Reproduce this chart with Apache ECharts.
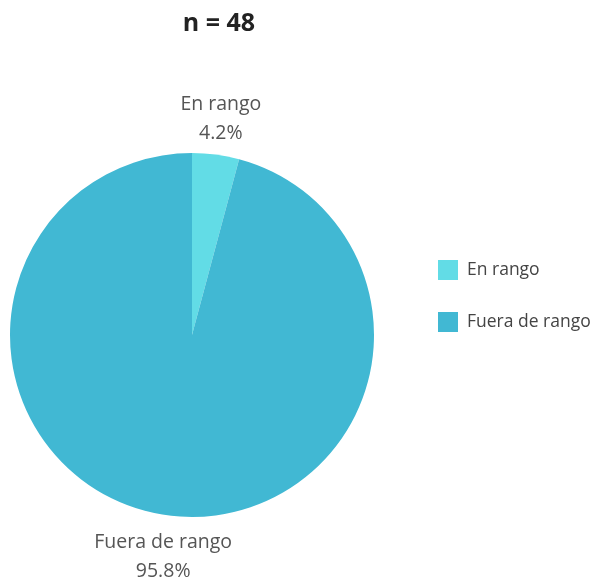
<!DOCTYPE html>
<html>
<head>
<meta charset="utf-8">
<script src="https://cdn.jsdelivr.net/npm/echarts@6/dist/echarts.min.js"></script>
<style>
  html, body { margin: 0; padding: 0; background: #fff; }
  #chart { width: 595px; height: 579px; }
</style>
</head>
<body>
<div id="chart"></div>
<script>
// Sample counts per category (n = 48)
const categories = ['En rango', 'Fuera de rango'];
const counts = [2, 46];
const colors = ['#62dce6', '#41b8d3'];

const total = counts.reduce((a, b) => a + b, 0);
const center = [192, 335];
const radius = 182;
const labelRadius = 221;

// Mid-angle of each slice (clockwise from 12 o'clock), used to place labels
const midAngles = [];
let acc = 0;
counts.forEach(v => {
  midAngles.push(((acc + v / 2) / total) * 2 * Math.PI);
  acc += v;
});

const chart = echarts.init(document.getElementById('chart'));
chart.setOption({
  animation: false,
  color: colors,
  title: {
    text: 'n = ' + total,
    left: 214,
    top: 6,
    textAlign: 'center',
    textStyle: { fontFamily: 'Open Sans', fontSize: 25, fontWeight: 'bold', color: '#222' }
  },
  legend: {
    orient: 'vertical',
    left: 433,
    top: 255,
    itemWidth: 20,
    itemHeight: 20,
    itemGap: 32,
    icon: 'rect',
    textStyle: { fontFamily: 'Open Sans', fontSize: 17.5, color: '#444', padding: [0, 0, 0, 4] },
    data: categories
  },
  series: [{
    type: 'pie',
    center: center,
    radius: radius,
    startAngle: 90,
    clockwise: true,
    data: categories.map((c, i) => ({ name: c, value: counts[i] })),
    label: {
      show: true,
      position: 'outside',
      formatter: p => p.name + '\n' + (p.value / total * 100).toFixed(1) + '%',
      fontFamily: 'Open Sans',
      fontSize: 19.5,
      lineHeight: 29,
      color: '#555',
      align: 'center',
      overflow: 'none'
    },
    labelLine: { show: false },
    labelLayout: params => {
      const a = midAngles[params.dataIndex];
      return {
        x: center[0] + labelRadius * Math.sin(a),
        y: center[1] - labelRadius * Math.cos(a) + 3,
        align: 'center',
        verticalAlign: 'middle'
      };
    },
    emphasis: { disabled: true }
  }]
});
</script>
</body>
</html>
